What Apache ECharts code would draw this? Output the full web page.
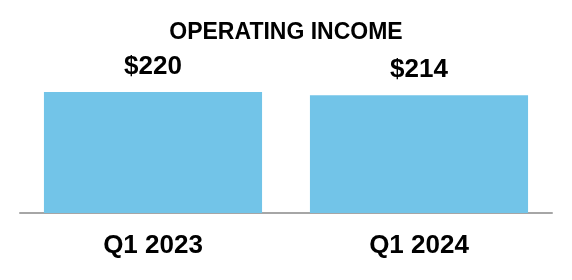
<!DOCTYPE html>
<html><head><meta charset="utf-8">
<script src="https://cdn.jsdelivr.net/npm/echarts@6/dist/echarts.min.js"></script>
<style>html,body{margin:0;padding:0;background:#fff}#c{width:572px;height:280px}</style>
</head><body><div id="c"></div>
<script>
var categories = ["Q1 2023", "Q1 2024"];
var values = [220, 214];
var titleText = "OPERATING INCOME";

var chart = echarts.init(document.getElementById('c'), null, {renderer: 'canvas'});
chart.setOption({
  animation: false,
  title: {
    text: titleText, left: 'center', top: 16,
    textStyle: {fontFamily: 'Liberation Sans, Arial', fontSize: 23, fontWeight: 'bold', color: '#000'}
  },
  grid: {left: 20, right: 20, top: 92, bottom: 67},
  xAxis: {
    type: 'category', data: categories,
    axisLine: {lineStyle: {color: '#a6a6a6', width: 2}},
    axisTick: {show: false},
    axisLabel: {margin: 20, fontFamily: 'Liberation Sans, Arial', fontSize: 26, fontWeight: 'bold', color: '#000'}
  },
  yAxis: {type: 'value', min: 0, max: 220, show: false, splitLine: {show: false}},
  series: [{
    type: 'bar', data: values, barCategoryGap: '18%',
    itemStyle: {color: '#72C4E8'},
    label: {
      show: true, position: 'top', distance: 12,
      formatter: function (p) { return '$' + p.value; },
      fontFamily: 'Liberation Sans, Arial', fontSize: 26, fontWeight: 'bold', color: '#000'
    }
  }]
});
</script></body></html>
